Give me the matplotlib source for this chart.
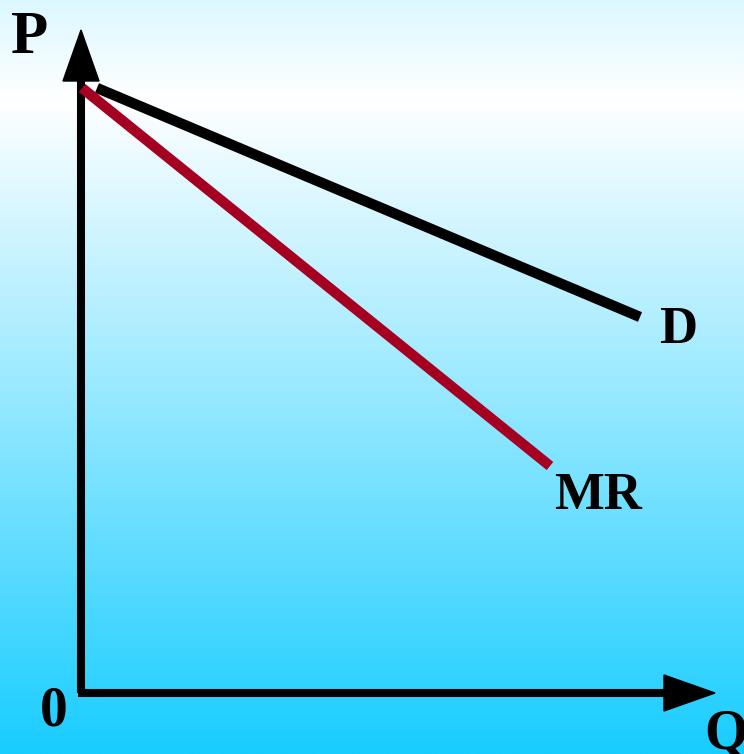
import numpy as np
import matplotlib.pyplot as plt
from matplotlib.patches import Polygon

# demand and marginal revenue lines (Q, P), origin at the axes corner
d_q = [16, 559]
d_p = [605, 376]
mr_q = [1, 469]
mr_p = [605, 227]

q_max = 634  # arrow tip of Q axis
p_max = 663  # arrow tip of P axis

fig = plt.figure(figsize=(7.44, 7.54), dpi=100)
ax = fig.add_axes([0, 0, 1, 1])
ax.set_xlim(-81, 663)
ax.set_ylim(-61, 693)
ax.axis('off')

# background gradient: light cyan -> white -> cyan
ys = np.linspace(0, 754, 400)
top = np.array([220, 248, 255]) / 255
white = np.array([255, 255, 255]) / 255
bottom = np.array([24, 205, 255]) / 255
cols = []
for y in ys:
    if y < 100:
        t = y / 100
        cols.append(top * (1 - t) + white * t)
    else:
        t = (y - 100) / 654
        cols.append(white * (1 - t) + bottom * t)
grad = np.array(cols).reshape(-1, 1, 3)
ax.imshow(grad, extent=[-81, 663, -61, 693], aspect='auto', zorder=0)

# axes
ax.plot([0, 0], [0, p_max - 50], color='black', lw=5.8, solid_capstyle='butt', zorder=2)
ax.plot([-2.9, q_max - 50], [0, 0], color='black', lw=5.8, solid_capstyle='butt', zorder=2)
ax.add_patch(Polygon([[-18, p_max - 51], [18, p_max - 51], [0, p_max]], color='black', zorder=3))
ax.add_patch(Polygon([[q_max - 51, 18], [q_max - 51, -18], [q_max, 0]], color='black', zorder=3))

# curves
ax.plot(d_q, d_p, color='black', lw=7.5, solid_capstyle='butt', zorder=4)
ax.plot(mr_q, mr_p, color='#a50021', lw=7.5, solid_capstyle='butt', zorder=4)

font = dict(family='Liberation Serif', fontweight='bold', color='black')
ax.text(-51, 655, 'P', fontsize=44, ha='center', va='center', **font)
ax.text(597, 363, 'D', fontsize=38, ha='center', va='center', **font)
ax.text(517, 197, 'MR', fontsize=38, ha='center', va='center', **font)
ax.text(-27, -19, '0', fontsize=40, ha='center', va='center', **font)
ax.text(645, -42, 'Q', fontsize=40, ha='center', va='center', **font)

plt.savefig('out.png', dpi=100)
